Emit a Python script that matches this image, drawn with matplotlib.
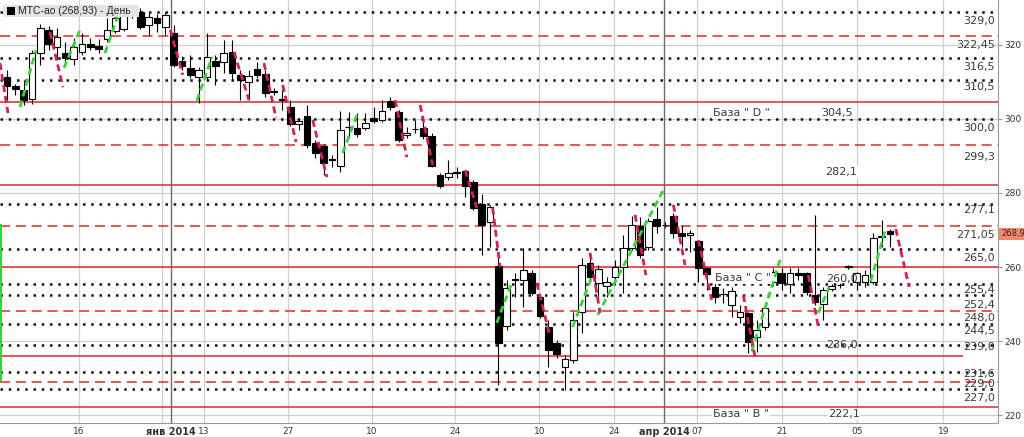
import matplotlib
matplotlib.use('Agg')
import matplotlib.pyplot as plt
from matplotlib.patches import Rectangle

opens = [311.3, 308.9, 307.8, 305.4, 317.8, 324.1, 319.5, 317.8, 316.2, 318.1,
         320.3, 319.7, 321.6, 323.8, 324.3, 328.4, 328.9, 325.4, 327.3, 324.9,
         323.2, 315.7, 313.8, 311.3, 311.3, 315.7, 315.4, 318.1, 311.9, 310.0,
         313.5, 312.2, 307.6, 305.4, 303.2, 298.6, 300.8, 293.5, 292.7, 289.2,
         287.3, 297.8, 297.6, 297.6, 300.3, 299.7, 304.9, 301.9, 295.7, 297.3,
         297.6, 295.4, 284.9, 284.3, 285.4, 285.9, 283.0, 277.0, 272.2, 260.3,
         244.1, 256.5, 256.5, 258.4, 251.9, 243.8, 239.5, 233.0, 234.9, 247.8,
         261.1, 255.7, 254.9, 257.3, 260.0, 265.1, 271.1, 265.4, 273.0, 271.4,
         273.8, 269.2, 268.7, 267.0, 259.7, 254.6, 252.7, 249.7, 246.5, 247.6,
         241.1, 243.8, 255.9, 258.4, 255.4, 258.4, 258.4, 252.4, 250.0, 254.1,
         255.1, 260.0, 255.9, 255.9, 255.9, 268.1, 269.7]
highs = [313.2, 309.5, 310.5, 318.6, 325.7, 325.1, 324.6, 320.8, 321.9, 323.2,
         321.9, 321.6, 327.3, 329.5, 329.5, 330.8, 330.0, 328.6, 328.4, 328.9,
         325.4, 317.0, 317.3, 314.1, 323.2, 317.3, 321.4, 321.4, 313.2, 313.2,
         315.4, 313.2, 308.4, 307.8, 305.1, 300.3, 303.8, 294.3, 293.2, 290.3,
         302.2, 301.9, 301.6, 301.6, 303.2, 305.1, 305.9, 302.4, 297.8, 299.7,
         299.2, 296.2, 285.4, 288.9, 287.0, 286.2, 283.5, 279.7, 276.8, 264.1,
         256.5, 258.4, 265.1, 259.2, 252.4, 245.7, 240.3, 236.2, 247.8, 262.4,
         263.8, 260.5, 257.3, 261.9, 268.7, 273.8, 273.5, 273.2, 276.2, 272.2,
         274.6, 271.4, 270.0, 267.3, 260.0, 258.4, 254.3, 254.6, 249.7, 247.8,
         245.7, 250.5, 259.7, 259.7, 259.7, 259.7, 258.7, 274.1, 254.6, 255.4,
         255.7, 260.5, 258.7, 259.2, 269.2, 272.7, 270.3]
lows = [305.1, 306.5, 303.8, 304.0, 314.6, 318.6, 315.9, 315.4, 314.6, 317.3,
        318.6, 317.8, 320.8, 323.2, 323.8, 327.3, 324.3, 322.7, 323.5, 322.7,
        314.1, 313.2, 311.1, 304.3, 310.5, 309.2, 312.4, 310.5, 305.1, 305.1,
        311.1, 305.9, 306.5, 302.4, 298.1, 297.0, 292.2, 289.5, 284.9, 287.0,
        285.7, 294.9, 295.1, 297.0, 298.9, 299.2, 302.4, 293.8, 294.9, 296.2,
        294.6, 287.0, 281.4, 283.5, 284.1, 278.9, 275.4, 263.2, 265.4, 228.1,
        243.0, 251.9, 249.2, 252.4, 246.2, 233.0, 235.4, 226.8, 234.1, 242.2,
        256.5, 251.1, 251.9, 255.1, 253.0, 264.6, 262.4, 264.6, 269.2, 270.5,
        267.8, 265.4, 264.1, 255.9, 253.8, 250.3, 250.3, 246.5, 244.9, 236.8,
        237.0, 243.0, 254.9, 253.8, 253.0, 256.5, 252.4, 249.7, 245.7, 253.5,
        254.3, 259.5, 253.8, 254.6, 255.4, 265.4, 265.4]
closes = [308.9, 308.1, 305.1, 317.8, 324.6, 320.3, 322.2, 316.5, 319.5, 320.3,
          319.5, 318.9, 324.1, 327.3, 328.1, 330.0, 324.9, 327.6, 325.9, 328.1,
          314.6, 314.3, 311.9, 313.2, 316.8, 314.3, 317.8, 312.4, 310.5, 311.6,
          311.9, 307.0, 307.4, 305.2, 298.6, 299.5, 293.0, 290.8, 288.1, 289.0,
          297.0, 297.9, 295.9, 298.9, 299.5, 302.2, 303.2, 294.3, 296.2, 297.2,
          295.4, 287.3, 281.9, 285.4, 285.5, 281.9, 276.0, 271.4, 276.2, 239.5,
          254.3, 256.6, 259.2, 253.0, 246.8, 237.6, 236.5, 235.1, 245.7, 260.5,
          257.3, 259.5, 255.9, 260.0, 265.1, 271.4, 263.2, 272.4, 271.1, 271.3,
          269.2, 268.4, 269.2, 259.7, 258.1, 251.9, 252.6, 253.5, 247.8, 239.7,
          243.0, 248.9, 258.7, 255.7, 258.4, 257.8, 253.2, 250.5, 253.8, 254.9,
          255.2, 260.1, 258.4, 257.8, 267.8, 268.2, 268.93]
last_price = 268.93

# levels drawn across the chart
dotted_levels = [329.0, 316.5, 310.5, 300.0, 277.1, 265.0, 255.4, 252.4, 244.5, 239.0, 231.6, 227.0]
dashed_levels = [322.45, 293.0, 271.05, 248.0, 229.0]
solid_levels = [304.5, 282.1, 260.0, 222.1]
short_level = 236.0

# labels on the right column
right_labels = ['329,0', '322,45', '316,5', '310,5', '300,0', '299,3', '277,1', '271,05',
                '265,0', '255,4', '252,4', '248,0', '244,5', '239,0', '231,6', '229,0', '227,0']
right_label_y = [326.5, 320.0, 314.1, 308.6, 297.6, 289.7, 275.4, 268.7,
                 262.4, 253.8, 249.7, 246.2, 242.7, 238.4, 231.1, 228.4, 224.6]

# base labels in the middle
base_labels = ['База " D "', '304,5', '282,1', 'База " C "', '260,0', '236,0', 'База " B "', '222,1']
base_x = [84.75, 97.8, 98.2, 85.0, 98.3, 98.3, 84.75, 98.6]
base_y = [301.6, 301.6, 285.7, 257.0, 256.8, 238.9, 220.3, 220.3]
base_boxed = [True, True, True, True, False, False, True, True]

# zigzag-like swing segments (index, price)
up_swings = [((1.56, 303.2), (3.48, 318.6)), ((6.84, 313.8), (8.76, 324.1)),
             ((11.76, 317.8), (13.57, 329.5)), ((22.8, 304.9), (24.6, 316.8)),
             ((40.3, 290.8), (42.1, 301.6)), ((58.8, 244.9), (60.6, 255.7)),
             ((67.9, 243.8), (70.2, 257.3)), ((70.9, 247.0), (78.8, 280.8)),
             ((89.4, 237.2), (92.8, 261.9)), ((97.4, 247.6), (98.7, 254.6)),
             ((103.7, 256.2), (105.5, 270.5))]
down_swings = [((-0.84, 315.1), (0.12, 301.6)), ((5.16, 323.5), (6.72, 308.6)),
               ((19.6, 324.1), (21.1, 311.9)), ((27.25, 318.1), (29.05, 305.1)),
               ((30.85, 315.1), (32.3, 300.3)), ((33.1, 309.2), (34.7, 293.8)),
               ((36.7, 299.7), (38.4, 284.3)), ((46.6, 305.1), (48.0, 289.7)),
               ((49.6, 303.8), (51.1, 287.6)), ((55.0, 286.2), (56.4, 276.0)),
               ((58.3, 276.0), (59.2, 260.0)), ((63.6, 255.7), (65.2, 241.1)),
               ((70.0, 263.8), (71.2, 247.6)), ((75.4, 274.1), (76.7, 257.8)),
               ((80.0, 276.8), (81.4, 260.5)), ((83.0, 267.3), (84.6, 251.1)),
               ((88.4, 252.4), (89.8, 235.7)), ((96.2, 257.8), (97.4, 243.8)),
               ((106.7, 270.3), (108.3, 254.6))]

# date axis
tick_pos = [8.6, 19.7, 23.6, 33.7, 43.8, 53.8, 63.9, 72.9, 78.9, 82.8, 93.0, 102.0, 112.4]
tick_labels = ['16', 'янв 2014', '13', '27', '10', '24', '10', '24', 'апр 2014', '07', '21', '05', '19']
month_pos = [19.7, 78.9]
extra_grid = [18.6]

RED = '#e03a3a'
TXT = '#3a3a3a'

fig = plt.figure(figsize=(10.24, 4.37), dpi=100)
ax = fig.add_axes([0, 14 / 437, 998 / 1024, 423 / 437])
ax.set_xlim(-0.84, 118.97)
ax.set_ylim(217.84, 332.16)

# grid
for y in range(220, 330, 20):
    ax.axhline(y, color='#cfcfcf', lw=0.9, zorder=0)
for x in tick_pos + extra_grid:
    if x in month_pos:
        ax.axvline(x, color='#6a6a6a', lw=1.0, zorder=0)
    else:
        ax.axvline(x, color='#cfcfcf', lw=0.9, zorder=0)

# levels
for v in dotted_levels:
    ax.axhline(v, color='#111111', lw=1.8, ls=(0, (1, 2.3)), zorder=1)
for v in dashed_levels:
    ax.axhline(v, color=RED, lw=1.2, ls=(0, (6, 3.5)), zorder=1)
for v in solid_levels:
    ax.axhline(v, color=RED, lw=1.2, zorder=1)
ax.hlines(short_level, -0.84, 114.8, color=RED, lw=1.2, zorder=1)

# candles
for i in range(len(opens)):
    o, h, l, c = opens[i], highs[i], lows[i], closes[i]
    ax.vlines(i, l, h, color='black', lw=0.8, zorder=3)
    bottom = min(o, c)
    height = max(abs(c - o), 0.15)
    face = 'white' if c >= o else 'black'
    ax.bar(i, height, bottom=bottom, width=0.8, color=face,
           edgecolor='black', linewidth=0.8, zorder=4)

# swing segments
for (x0, y0), (x1, y1) in up_swings:
    ax.plot([x0, x1], [y0, y1], color='#3ad13a', lw=2.0, ls=(0, (2.5, 1.5)), zorder=5)
for (x0, y0), (x1, y1) in down_swings:
    ax.plot([x0, x1], [y0, y1], color='#d2224e', lw=2.0, ls=(0, (2.5, 1.5)), zorder=5)
ax.plot([-0.75, -0.75], [229.5, 271.4], color='#3ad13a', lw=1.5, zorder=5)

# texts
for t, y in zip(right_labels, right_label_y):
    ax.text(118.6, y, t, ha='right', va='center', fontsize=8, color=TXT, zorder=6)
for t, x, y, boxed in zip(base_labels, base_x, base_y, base_boxed):
    kw = {}
    if boxed:
        kw['bbox'] = dict(facecolor='white', edgecolor='none', pad=0.5)
    ax.text(x, y, t, ha='left', va='center', fontsize=8, color=TXT, zorder=6, **kw)

# axes styling
for s in ['top', 'left']:
    ax.spines[s].set_visible(False)
ax.spines['right'].set_color('#9a9a9a')
ax.spines['bottom'].set_color('#9a9a9a')
ax.yaxis.tick_right()
ax.set_yticks(range(220, 330, 20))
ax.tick_params(axis='y', labelsize=6.5, colors='#9a9a9a', labelcolor='#333333', length=3, pad=1.5)
ax.set_xticks(tick_pos)
ax.set_xticklabels(tick_labels)
ax.tick_params(axis='x', labelsize=6.5, length=0, pad=3, labelcolor='#333333')
for lab in ax.get_xticklabels():
    if '2014' in lab.get_text():
        lab.set_fontweight('bold')
        lab.set_fontsize(7)

# last price marker on the axis
ax.text(1.003, last_price, '268,9', transform=ax.get_yaxis_transform(), ha='left', va='center',
        fontsize=6, color='#402010', clip_on=False,
        bbox=dict(facecolor='#f08a6c', edgecolor='none', pad=1.2))

# legend box at top-left
fig.add_artist(Rectangle((3 / 1024, 1 - 17 / 437), 136 / 1024, 12 / 437, transform=fig.transFigure,
                         facecolor='#e4e4e4', edgecolor='none', zorder=10))
fig.add_artist(Rectangle((7 / 1024, 1 - 15 / 437), 8 / 1024, 8 / 437, transform=fig.transFigure,
                         facecolor='black', edgecolor='none', zorder=11))
fig.text(18 / 1024, 1 - 11 / 437, 'МТС-ао (268,93) - День', va='center', ha='left',
         fontsize=7.5, family='Liberation Sans', color='#222222', zorder=12)

fig.savefig('out.png', dpi=100)
